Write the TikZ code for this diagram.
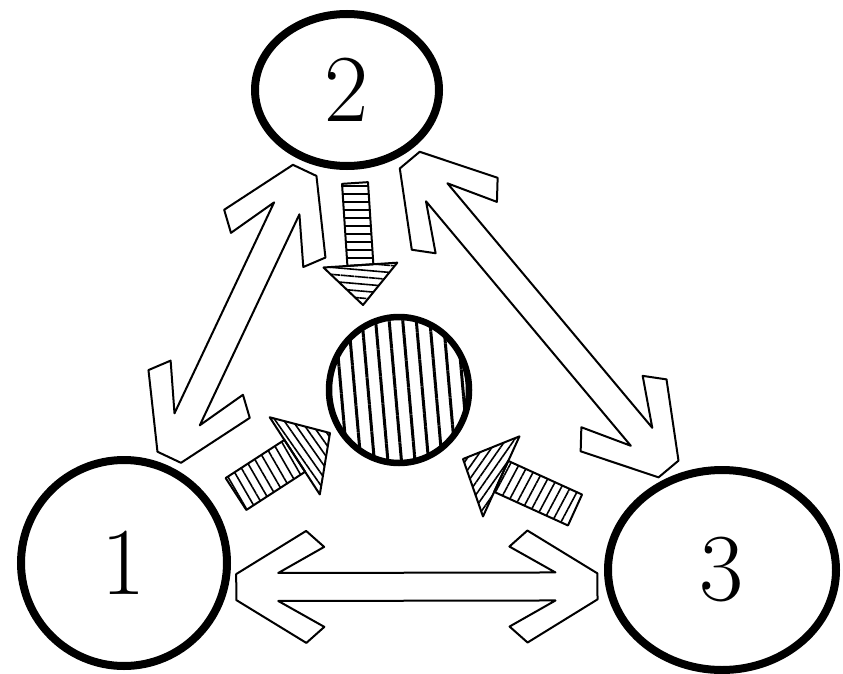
\documentclass[tikz,border=0pt]{standalone}
\usepackage{fontspec}
\usetikzlibrary{shapes.geometric, patterns.meta, calc}

\newcommand{\ap}[4]{($(#1)!#3!(#2)!#4!90:(#2)$)}
\newcommand{\twoway}[2]{%
  \draw[openarrow] \ap{#1}{#2}{50pt}{-14pt} -- \ap{#1}{#2}{96pt}{-40pt} -- \ap{#1}{#2}{78pt}{-56pt} -- \ap{#1}{#2}{8pt}{-13pt}
    -- \ap{#1}{#2}{8pt}{13pt} -- \ap{#1}{#2}{78pt}{56pt} -- \ap{#1}{#2}{96pt}{40pt} -- \ap{#1}{#2}{50pt}{14pt}
    -- \ap{#2}{#1}{50pt}{-14pt} -- \ap{#2}{#1}{96pt}{-40pt} -- \ap{#2}{#1}{78pt}{-56pt} -- \ap{#2}{#1}{8pt}{-13pt}
    -- \ap{#2}{#1}{8pt}{13pt} -- \ap{#2}{#1}{78pt}{56pt} -- \ap{#2}{#1}{96pt}{40pt} -- \ap{#2}{#1}{50pt}{14pt} -- cycle;}
\newcommand{\hatcharrow}[7]{%
  \draw[hatchline, pattern={Lines[angle=#6, distance=8pt, line width=1.6pt]}]
    \ap{#1}{#2}{0pt}{#3} -- \ap{#2}{#1}{#5}{-#3} -- \ap{#2}{#1}{#5}{#3} -- \ap{#1}{#2}{0pt}{-#3} -- cycle;
  \draw[hatchline, pattern={Lines[angle=#7, distance=7pt, line width=1.6pt]}]
    \ap{#2}{#1}{#5}{-#4} -- (#2) -- \ap{#2}{#1}{#5}{#4} -- cycle;}

\begin{document}
\begin{tikzpicture}[x=1pt, y=-1pt,
    bubble/.style={ellipse, draw, line width=8pt, inner sep=0pt, font=\fontsize{96pt}{96pt}\selectfont},
    hub/.style={ellipse, draw, line width=6.5pt, inner sep=0pt, minimum width=140pt, minimum height=146pt,
      pattern={Lines[angle=95, distance=13.5pt, line width=3pt]}},
    openarrow/.style={line width=2pt, line join=round},
    hatchline/.style={line width=2pt, line join=round}
  ]
  \useasboundingbox (0,0) rectangle (843,674);
  \node[bubble, minimum width=184pt, minimum height=152pt] (c2) at (347,90) {2};
  \node[bubble, minimum width=206pt, minimum height=206pt] (c1) at (124,563) {1};
  \node[bubble, minimum width=228pt, minimum height=200pt] (c3) at (722,570) {3};
  \node[hub] (hub) at (399,390) {};

  \twoway{c1.-13}{c3.188}
  \twoway{c2.-48}{c3.117}
  \twoway{c2.-118}{c1.67}

  \coordinate (t2) at (355,183);
  \coordinate (h2) at (363,305);
  \coordinate (t1) at (236,494);
  \coordinate (h1) at (330,433);
  \coordinate (t3) at (575,510);
  \coordinate (h3) at (463,459);
  \hatcharrow{t2}{h2}{13pt}{37pt}{40pt}{0}{-5}
  \hatcharrow{t1}{h1}{19pt}{46pt}{42pt}{-60}{-55}
  \hatcharrow{t3}{h3}{17pt}{44pt}{42pt}{62}{55}
\end{tikzpicture}
\end{document}
